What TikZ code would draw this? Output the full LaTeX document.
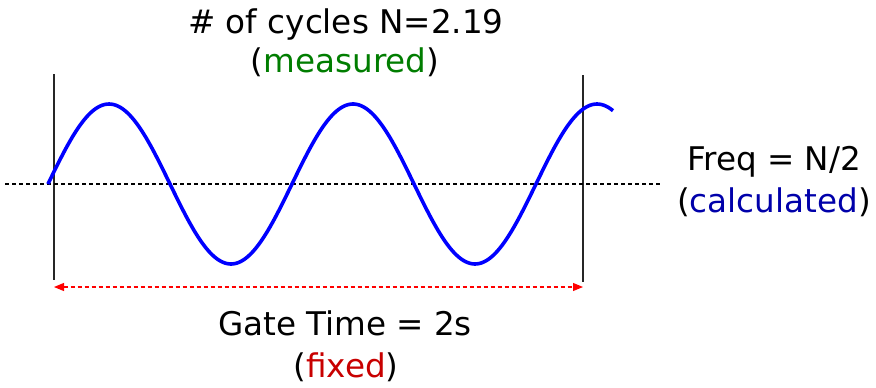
\documentclass[tikz,border=0pt]{standalone}
\usepackage{fontspec}
\setmainfont{DejaVu Sans}
\usetikzlibrary{arrows.meta}
\definecolor{meas}{RGB}{0,125,0}
\definecolor{calc}{RGB}{0,0,170}
\definecolor{fixc}{RGB}{200,0,0}
\definecolor{spanc}{RGB}{255,0,0}
\definecolor{wave}{RGB}{0,0,255}
\tikzset{
  lbl/.style={anchor=base, inner sep=0pt, font=\fontsize{32.6}{38}\selectfont},
  gate/.style={line width=1.3pt, black!85},
  axisline/.style={line width=1.1pt, dash pattern=on 4pt off 3pt},
  wavecurve/.style={line width=3.6pt, wave},
  span/.style={line width=1.1pt, spanc, dash pattern=on 4pt off 3pt, {Triangle[length=10pt,width=8pt]}-{Triangle[length=10pt,width=8pt]}}
}
\begin{document}
\begin{tikzpicture}[x=1pt,y=-1pt]
\useasboundingbox (0,0) rectangle (876,388);
% gate lines
\coordinate (g1t) at (54,74);
\coordinate (g1b) at (54,280);
\coordinate (g2t) at (583,75);
\coordinate (g2b) at (583,282);
\draw[gate] (g1t) -- (g1b);
\draw[gate] (g2t) -- (g2b);
% axis
\coordinate (al) at (5,184);
\coordinate (ar) at (660,184);
\draw[axisline] (al) -- (ar);
% wave
\draw[wavecurve, domain=0:565, samples=250, smooth] plot ({48+\x}, {184-80*sin(1.47541*\x)});
% span arrow
\coordinate (s1) at (54,287);
\coordinate (s2) at (583,287);
\draw[span] (s1) -- (s2);
% labels
\node[lbl] (n1) at (346,33) {\# of cycles N=2.19};
\node[lbl] (n2) at (345,72) {(\textcolor{meas}{measured})};
\node[lbl] (f1) at (774,170) {Freq = N/2};
\node[lbl] (f2) at (774,212) {(\textcolor{calc}{calculated})};
\node[lbl] (t1) at (345,335) {Gate Time = 2s};
\node[lbl] (t2) at (346,377) {(\textcolor{fixc}{fixed})};
\end{tikzpicture}
\end{document}
